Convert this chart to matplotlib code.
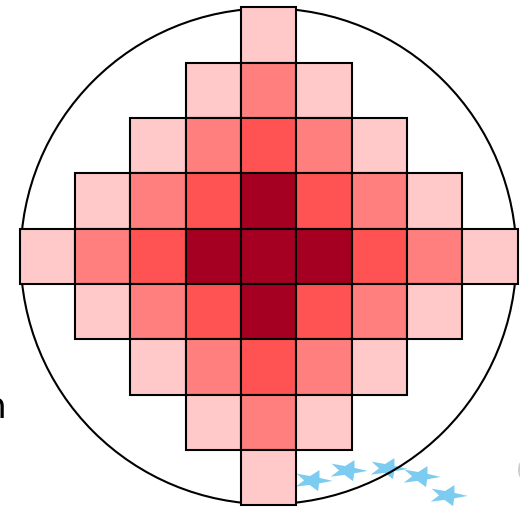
import numpy as np
import matplotlib
matplotlib.use('Agg')
import matplotlib.pyplot as plt
from matplotlib.patches import Rectangle, Circle, Ellipse
from matplotlib.path import Path

# 强度等级 (0 = 空, 1 浅 .. 4 深)，从上到下每一行
levels = [
    [0, 0, 0, 0, 1, 0, 0, 0, 0],
    [0, 0, 0, 1, 2, 1, 0, 0, 0],
    [0, 0, 1, 2, 3, 2, 1, 0, 0],
    [0, 1, 2, 3, 4, 3, 2, 1, 0],
    [1, 2, 3, 4, 4, 4, 3, 2, 1],
    [0, 1, 2, 3, 4, 3, 2, 1, 0],
    [0, 0, 1, 2, 3, 2, 1, 0, 0],
    [0, 0, 0, 1, 2, 1, 0, 0, 0],
    [0, 0, 0, 0, 1, 0, 0, 0, 0],
]
level_colors = {1: '#FFC9C9', 2: '#FF7F7F', 3: '#FF5252', 4: '#A50021'}

circle_radius = 4.48

# 蓝色星星位置 (格子单位)
star_x = [0.78, 1.42, 2.14, 2.74, 3.23]
star_y = [-4.04, -3.86, -3.83, -3.97, -4.31]

# 星形 marker，压扁并略微旋转
ang = np.linspace(0, 2 * np.pi, 11)[:-1] + np.pi / 2 - 0.35
rad = np.where(np.arange(10) % 2 == 0, 1.0, 0.42)
vx = rad * np.cos(ang)
vy = rad * np.sin(ang) * 0.55
verts = list(zip(vx, vy)) + [(vx[0], vy[0])]
star_path = Path(verts, [Path.MOVETO] + [Path.LINETO] * 9 + [Path.CLOSEPOLY])

fig = plt.figure(figsize=(5.2, 5.08), dpi=100)
ax = fig.add_axes([0, 0, 1, 1])
ax.set_xlim(-4.853, 4.545)
ax.set_ylim(-4.550, 4.631)
ax.set_aspect('equal')
ax.axis('off')

ax.plot(star_x, star_y, linestyle='none', marker=star_path, markersize=29,
        color='#7CCBF0', markeredgewidth=0, zorder=1)

ax.add_patch(Circle((0, 0), circle_radius, facecolor='none', edgecolor='black',
                    linewidth=1.5, zorder=2))

n = len(levels)
for r in range(n):
    for c in range(n):
        lv = levels[r][c]
        if lv == 0:
            continue
        x0 = c - (n - 1) / 2 - 0.5
        y0 = (n - 1) / 2 - r - 0.5
        ax.add_patch(Rectangle((x0, y0), 1, 1, facecolor=level_colors[lv],
                               edgecolor='black', linewidth=1.5, zorder=3))

ax.text(-4.74, -2.92, 'n', ha='right', va='baseline', fontsize=26,
        family='DejaVu Sans', color='black')
ax.add_patch(Ellipse((4.57, -3.86), 0.12, 0.3, facecolor='#CCCCCC',
                     edgecolor='none', zorder=1))

fig.savefig('out.png', dpi=100)
